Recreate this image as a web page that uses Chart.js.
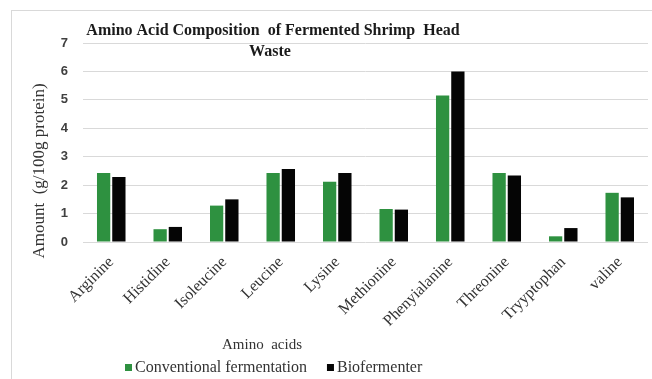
<!DOCTYPE html>
<html>
<head>
<meta charset="utf-8">
<script src="https://cdn.jsdelivr.net/npm/chart.js@4.4.0/dist/chart.umd.min.js"></script>
<style>
  html, body { margin: 0; padding: 0; background: #fff; }
  #wrap { width: 652px; height: 379px; }
</style>
</head>
<body>
<div id="wrap"><canvas id="chart" width="652" height="379"></canvas></div>
<script>
const aminoAcids = ["Arginine", "Histidine", "Isoleucine", "Leucine", "Lysine",
  "Methionine", "Phenyialanine", "Threonine", "Tryyptophan", "valine"];
const conventional = [2.43, 0.45, 1.28, 2.43, 2.12, 1.16, 5.15, 2.43, 0.2, 1.73];
const biofermenter = [2.29, 0.53, 1.5, 2.57, 2.43, 1.14, 6.0, 2.34, 0.49, 1.57];
const yTicks = [0, 1, 2, 3, 4, 5, 6, 7];

const chartTitle = ["Amino Acid Composition  of Fermented Shrimp  Head", "Waste"];
const xTitle = "Amino  acids";
const yTitle = "Amount  (g/100g protein)";

const serif = "'Liberation Serif', 'Times New Roman', serif";

// texts that sit off-centre in the original, drawn by hand
const extras = {
  id: 'extras',
  afterDraw(chart) {
    const ctx = chart.ctx;
    ctx.save();
    // frame
    ctx.strokeStyle = '#d9d9d9';
    ctx.lineWidth = 1;
    ctx.strokeRect(11.5, 10.5, 700, 400);

    ctx.fillStyle = '#1a1a1a';
    ctx.textAlign = 'center';
    ctx.textBaseline = 'middle';
    ctx.font = "bold 16px " + serif;
    ctx.fillText(chartTitle[0], 273, 31);
    ctx.fillText(chartTitle[1], 270, 52);

    ctx.fillStyle = '#333';
    ctx.font = "15px " + serif;
    ctx.fillText(xTitle, 262, 345);

    ctx.save();
    ctx.translate(40, 171);
    ctx.rotate(-Math.PI / 2);
    ctx.font = "17px " + serif;
    ctx.fillText(yTitle, 0, 0);
    ctx.restore();

    // legend
    ctx.font = "16px " + serif;
    ctx.textAlign = 'left';
    let x = 125;
    chart.data.datasets.forEach(ds => {
      ctx.fillStyle = ds.backgroundColor;
      ctx.fillRect(x, 364, 7, 7);
      ctx.fillStyle = '#333';
      ctx.fillText(ds.label, x + 10, 368);
      x += 10 + ctx.measureText(ds.label).width + 20;
    });
    ctx.restore();
  }
};

new Chart(document.getElementById('chart'), {
  type: 'bar',
  data: {
    labels: aminoAcids,
    datasets: [
      { label: 'Conventional fermentation', data: conventional, backgroundColor: '#2e9140' },
      { label: 'Biofermenter', data: biofermenter, backgroundColor: '#050505' }
    ]
  },
  options: {
    responsive: false,
    animation: false,
    categoryPercentage: 0.54,
    barPercentage: 0.87,
    layout: { padding: { top: 43, right: 4, left: 0, bottom: 0 } },
    plugins: {
      legend: { display: false },
      title: { display: false },
      tooltip: { enabled: false }
    },
    scales: {
      x: {
        grid: { display: false },
        border: { display: false },
        ticks: {
          autoSkip: false,
          minRotation: 45,
          maxRotation: 45,
          color: '#333',
          font: { family: serif, size: 16 }
        },
        afterFit(scale) { scale.height = 137; }
      },
      y: {
        min: 0,
        max: 7,
        afterBuildTicks(scale) { scale.ticks = yTicks.map(v => ({ value: v })); },
        grid: { color: '#d9d9d9', drawTicks: false },
        border: { display: false },
        ticks: {
          padding: 15,
          color: '#404040',
          font: { family: "'Liberation Sans', Arial, sans-serif", size: 13, weight: 'bold' }
        },
        afterFit(scale) { scale.width = 83; }
      }
    }
  },
  plugins: [extras]
});
</script>
</body>
</html>
